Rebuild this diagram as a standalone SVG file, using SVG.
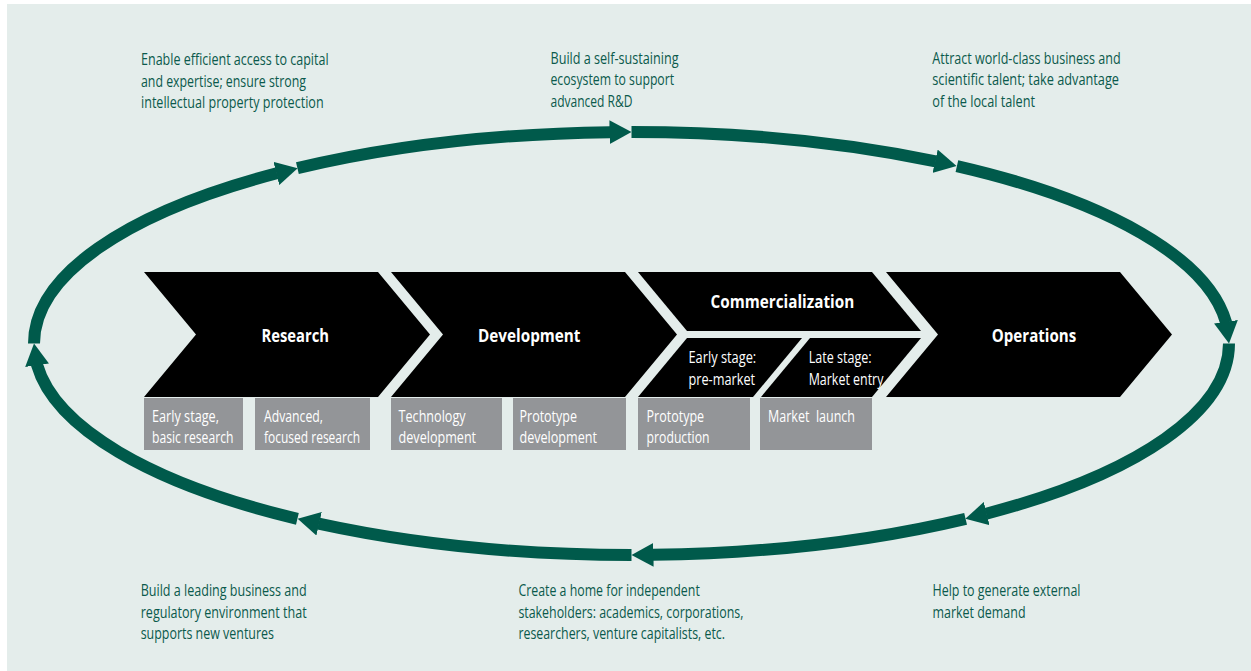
<svg xmlns="http://www.w3.org/2000/svg" width="1251" height="671" viewBox="0 0 1251 671">
<style>
.bg{fill:#e4edeb}
.chev{fill:#000}
.box{fill:#939598}
.lbl{font-family:"Open Sans","Liberation Sans",sans-serif;font-weight:700;font-size:18.5px;fill:#fff}
.sub{font-family:"Open Sans","Liberation Sans",sans-serif;font-size:15.5px;fill:#fff}
.note{font-family:"Open Sans","Liberation Sans",sans-serif;font-size:16px;fill:#0b5a4c}
.arc{fill:none;stroke:#005a4b;stroke-width:12;stroke-linecap:butt;marker-end:url(#ah)}
</style>
<defs>
<marker id="ah" markerUnits="userSpaceOnUse" markerWidth="22" markerHeight="24" viewBox="0 0 22 24" refX="0.6" refY="12" orient="auto">
<path d="M0,0 L22,12 L0,24 z" fill="#005a4b"/>
</marker>
</defs>
<rect class="bg" x="7" y="4" width="1244" height="667"/>

<g id="connectors">
<path class="arc" d="M34,343.5 A597.5 211.5 0 0 1 276.8,173.3 l0.097,-0.024"/>
<path class="arc" d="M297.4,168.2 A597.5 211.5 0 0 1 610,132.14 l0.1,-0.0007"/>
<path class="arc" d="M631.5,132 A597.5 211.5 0 0 1 935.6,161.4 l0.0977,0.0216"/>
<path class="arc" d="M956.9,166.1 A597.5 211.5 0 0 1 1226,322.24 l0.014,0.099"/>
<path class="arc" d="M1229,343.5 A597.5 211.5 0 0 1 986.2,513.7 l-0.097,0.024"/>
<path class="arc" d="M965.6,518.8 A597.5 211.5 0 0 1 653,554.86 l-0.1,0.0007"/>
<path class="arc" d="M631.5,555 A597.5 211.5 0 0 1 318.6,523.7 l-0.0974,-0.0225"/>
<path class="arc" d="M297.4,518.8 A597.5 211.5 0 0 1 37,364.76 l-0.014,-0.099"/>
</g>

<g id="research">
<polygon class="chev" points="144,272 378,272 430,334.5 378,397 144,397 196,334.5"/>
<text class="lbl" x="261.5" y="341.5" textLength="67.5" lengthAdjust="spacingAndGlyphs">Research</text>
</g>
<g id="development">
<polygon class="chev" points="391,272 625,272 677,334.5 625,397 391,397 443,334.5"/>
<text class="lbl" x="478" y="341.5" textLength="102.5" lengthAdjust="spacingAndGlyphs">Development</text>
</g>
<g id="commercialization">
<polygon class="chev" points="638,272 872,272 921,331 687,331"/>
<text class="lbl" x="710.6" y="307.5" textLength="143.6" lengthAdjust="spacingAndGlyphs">Commercialization</text>
</g>
<g id="early-stage">
<polygon class="chev" points="687,338 802,338 753,397 638,397"/>
<text class="sub" x="688.5" y="362.5" textLength="67.7" lengthAdjust="spacingAndGlyphs">Early stage:</text>
<text class="sub" x="688.5" y="384.5" textLength="66.6" lengthAdjust="spacingAndGlyphs">pre-market</text>
</g>
<g id="late-stage">
<polygon class="chev" points="810,338 921,338 872,397 761,397"/>
<text class="sub" x="808.7" y="362.5" textLength="62.9" lengthAdjust="spacingAndGlyphs">Late stage:</text>
<text class="sub" x="808.7" y="384.5" textLength="74.7" lengthAdjust="spacingAndGlyphs">Market entry</text>
</g>
<g id="operations">
<polygon class="chev" points="886,272 1120,272 1172,334.5 1120,397 886,397 938,334.5"/>
<text class="lbl" x="991.8" y="341.5" textLength="84.4" lengthAdjust="spacingAndGlyphs">Operations</text>
</g>

<g id="box-basic-research">
<rect class="box" x="144" y="398" width="99" height="52"/>
<text class="sub" x="152" y="421.5" textLength="67" lengthAdjust="spacingAndGlyphs">Early stage,</text>
<text class="sub" x="152" y="442.5" textLength="81.4" lengthAdjust="spacingAndGlyphs">basic research</text>
</g>
<g id="box-focused-research">
<rect class="box" x="255" y="398" width="115" height="52"/>
<text class="sub" x="264" y="421.5" textLength="59" lengthAdjust="spacingAndGlyphs">Advanced,</text>
<text class="sub" x="264" y="442.5" textLength="96" lengthAdjust="spacingAndGlyphs">focused research</text>
</g>
<g id="box-technology-development">
<rect class="box" x="391" y="398" width="111" height="52"/>
<text class="sub" x="398.6" y="421.5" textLength="67" lengthAdjust="spacingAndGlyphs">Technology</text>
<text class="sub" x="398.6" y="442.5" textLength="77.5" lengthAdjust="spacingAndGlyphs">development</text>
</g>
<g id="box-prototype-development">
<rect class="box" x="513" y="398" width="113" height="52"/>
<text class="sub" x="519.5" y="421.5" textLength="57.5" lengthAdjust="spacingAndGlyphs">Prototype</text>
<text class="sub" x="519.5" y="442.5" textLength="77.5" lengthAdjust="spacingAndGlyphs">development</text>
</g>
<g id="box-prototype-production">
<rect class="box" x="638" y="398" width="112" height="52"/>
<text class="sub" x="646.6" y="421.5" textLength="57.5" lengthAdjust="spacingAndGlyphs">Prototype</text>
<text class="sub" x="646.6" y="442.5" textLength="62.9" lengthAdjust="spacingAndGlyphs">production</text>
</g>
<g id="box-market-launch">
<rect class="box" x="760" y="398" width="112" height="52"/>
<text class="sub" x="768" y="421.5" textLength="87" lengthAdjust="spacingAndGlyphs" style="white-space:pre">Market  launch</text>
</g>

<g id="note-capital">
<text class="note" x="141" y="65" textLength="187.6" lengthAdjust="spacingAndGlyphs">Enable efficient access to capital</text>
<text class="note" x="141" y="86.5" textLength="165" lengthAdjust="spacingAndGlyphs">and expertise; ensure strong</text>
<text class="note" x="141" y="108" textLength="182.6" lengthAdjust="spacingAndGlyphs">intellectual property protection</text>
</g>
<g id="note-ecosystem">
<text class="note" x="550.5" y="63.5" textLength="128" lengthAdjust="spacingAndGlyphs">Build a self-sustaining</text>
<text class="note" x="550.5" y="85" textLength="123.6" lengthAdjust="spacingAndGlyphs">ecosystem to support</text>
<text class="note" x="550.5" y="106.5" textLength="82" lengthAdjust="spacingAndGlyphs">advanced R&amp;D</text>
</g>
<g id="note-talent">
<text class="note" x="932.3" y="63.5" textLength="188.4" lengthAdjust="spacingAndGlyphs">Attract world-class business and</text>
<text class="note" x="932.3" y="85" textLength="186.7" lengthAdjust="spacingAndGlyphs">scientific talent; take advantage</text>
<text class="note" x="932.3" y="106.5" textLength="102.7" lengthAdjust="spacingAndGlyphs">of the local talent</text>
</g>
<g id="note-demand">
<text class="note" x="932.5" y="596" textLength="148" lengthAdjust="spacingAndGlyphs">Help to generate external</text>
<text class="note" x="932.5" y="617.5" textLength="93" lengthAdjust="spacingAndGlyphs">market demand</text>
</g>
<g id="note-stakeholders">
<text class="note" x="518.4" y="596" textLength="181.4" lengthAdjust="spacingAndGlyphs">Create a home for independent</text>
<text class="note" x="518.4" y="617.5" textLength="225" lengthAdjust="spacingAndGlyphs">stakeholders: academics, corporations,</text>
<text class="note" x="518.4" y="639" textLength="206.6" lengthAdjust="spacingAndGlyphs">researchers, venture capitalists, etc.</text>
</g>
<g id="note-regulatory">
<text class="note" x="140.7" y="596" textLength="166" lengthAdjust="spacingAndGlyphs">Build a leading business and</text>
<text class="note" x="140.7" y="617.5" textLength="166" lengthAdjust="spacingAndGlyphs">regulatory environment that</text>
<text class="note" x="140.7" y="639" textLength="133.3" lengthAdjust="spacingAndGlyphs">supports new ventures</text>
</g>
</svg>
